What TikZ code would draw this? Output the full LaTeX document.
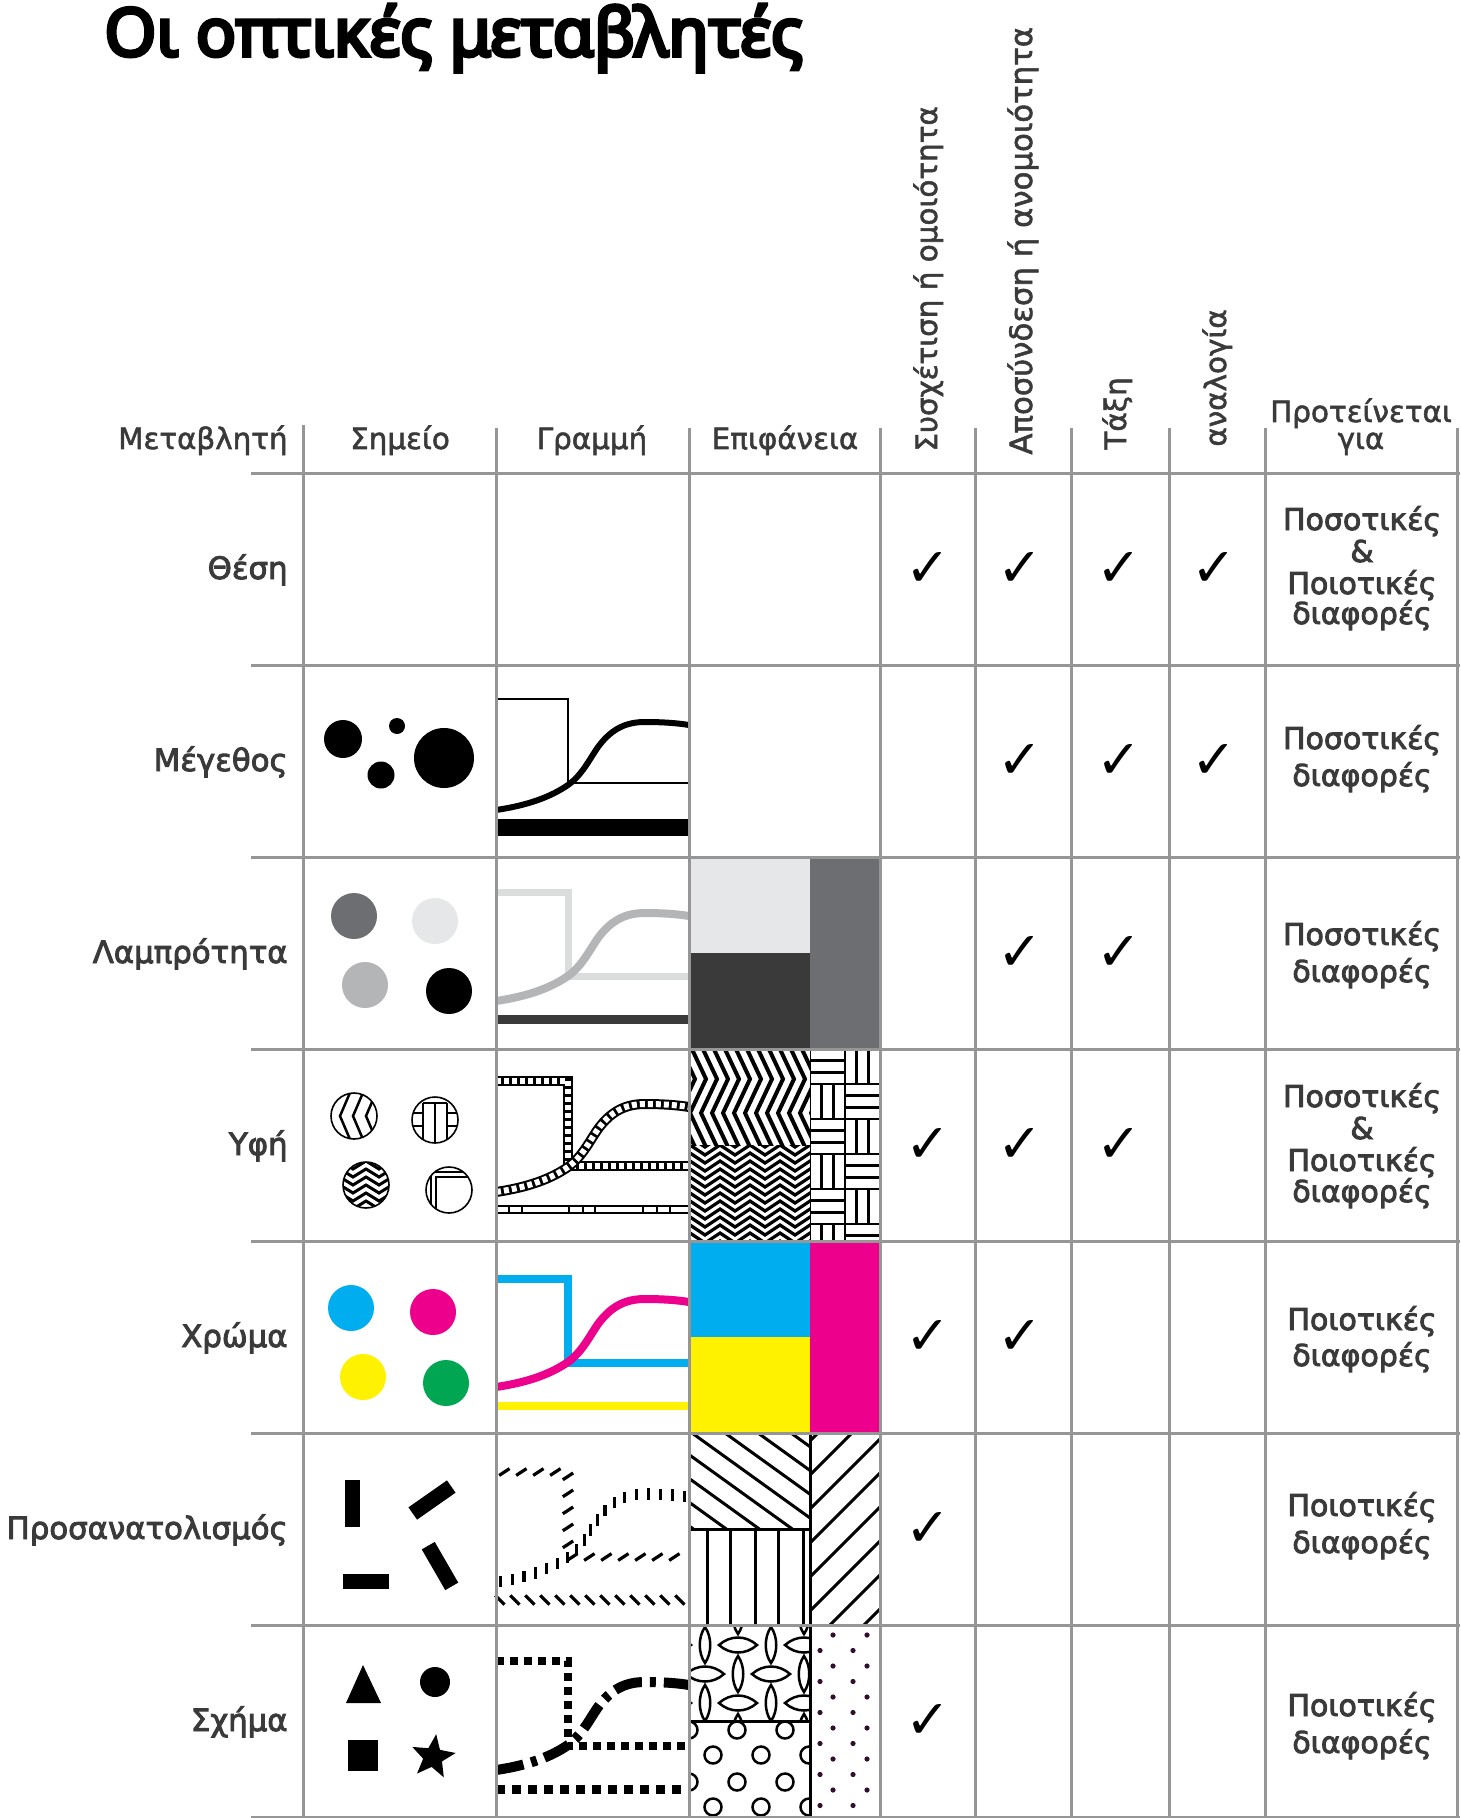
\documentclass[tikz,border=0pt]{standalone}
\usepackage{fontspec}
\setmainfont{DejaVu Sans}
\newfontfamily\hdrfont{DejaVu Sans}[FakeBold=1.8]
\newfontfamily\labfont{DejaVu Sans}[FakeBold=3]
\newfontfamily\titlefont{Noto Sans}[FakeBold=5.5]
\newfontfamily\symfont{DejaVu Sans}
\usetikzlibrary{shapes.geometric,decorations.markings}
\definecolor{gridgray}{RGB}{150,150,150}
\definecolor{txt}{RGB}{58,58,58}
\definecolor{cyanC}{RGB}{0,174,239}
\definecolor{magC}{RGB}{236,0,140}
\definecolor{yelC}{RGB}{255,242,0}
\definecolor{grnC}{RGB}{0,166,81}
\definecolor{gDark}{RGB}{109,110,113}
\definecolor{gLight}{RGB}{230,231,232}
\definecolor{gMid}{RGB}{180,181,183}
\definecolor{gBlack}{RGB}{58,58,58}
\definecolor{dotC}{RGB}{50,15,45}
\newcommand\scurve[1]{(496,#1+145) .. controls (530,#1+140) and (552,#1+131) .. (568,#1+120) .. controls (582,#1+110) and (589,#1+95) .. (598,#1+82) .. controls (612,#1+63) and (627,#1+57) .. (645,#1+57) .. controls (662,#1+57) and (677,#1+58) .. (689,#1+60)}
\newcommand\srect[2]{(496,#1) -- (568,#1) -- (568,#2) -- (689,#2)}
\newcommand\vlens[2]{(#1,#2-18) .. controls (#1+7,#2-8) and (#1+7,#2+8) .. (#1,#2+18) .. controls (#1-7,#2+8) and (#1-7,#2-8) .. (#1,#2-18) -- cycle}
\newcommand\hlens[2]{(#1-19,#2) .. controls (#1-8,#2-10) and (#1+8,#2-10) .. (#1+19,#2) .. controls (#1+8,#2+10) and (#1-8,#2+10) .. (#1-19,#2) -- cycle}
\tikzset{
  gridline/.style={draw=gridgray, line width=1.5pt},
  hdr/.style={text=txt, font=\hdrfont\fontsize{14.7}{17}\selectfont, inner sep=0pt},
  rowlab/.style={text=txt, font=\labfont\fontsize{15.4}{17}\selectfont, anchor=base east, inner sep=0pt},
  diff/.style={text=txt, font=\labfont\fontsize{15}{17}\selectfont, anchor=base, inner sep=0pt},
  chk/.style={font=\symfont\fontsize{27}{27}\selectfont, inner sep=0pt},
  pat/.style={line width=1.25pt},
}
\begin{document}
\begin{tikzpicture}[x=0.5pt,y=-0.5pt]
\useasboundingbox (0,0) rectangle (1460,1818);
\fill[white] (0,0) rectangle (1460,1818);

% ---------- title
\node[anchor=base west, font=\titlefont\fontsize{33.3}{40}\selectfont, inner sep=0pt] (title) at (104,56) {Οι οπτικές μεταβλητές};

% ---------- headers
\node[hdr, anchor=base east] (hVar) at (288,449) {Μεταβλητή};
\node[hdr, anchor=base] (hPt) at (400,449) {Σημείο};
\node[hdr, anchor=base] (hLn) at (592,449) {Γραμμή};
\node[hdr, anchor=base] (hSf) at (785,449) {Επιφάνεια};
\node[hdr, rotate=90, anchor=base west] (hSim) at (937,452) {Συσχέτιση ή ομοιότητα};
\node[hdr, rotate=90, anchor=base west, font=\hdrfont\fontsize{15.4}{17}\selectfont] (hDis) at (1032,455) {Αποσύνδεση ή ανομοιότητα};
\node[hdr, rotate=90, anchor=base west] (hOrd) at (1126,450) {Τάξη};
\node[hdr, rotate=90, anchor=base west] (hPro) at (1226,447) {αναλογία};
\node[hdr, anchor=base] (hSug1) at (1361,422) {Προτείνεται};
\node[hdr, anchor=base] (hSug2) at (1361,449) {για};

% ---------- row labels
\node[rowlab] (r1) at (288,579) {Θέση};
\node[rowlab] (r2) at (288,771) {Μέγεθος};
\node[rowlab] (r3) at (288,963) {Λαμπρότητα};
\node[rowlab] (r4) at (288,1155) {Υφή};
\node[rowlab] (r5) at (288,1347) {Χρώμα};
\node[rowlab] (r6) at (288,1539) {Προσανατολισμός};
\node[rowlab] (r7) at (288,1731) {Σχήμα};

% ---------- checks
\foreach \x [count=\i] in {928,1020,1119,1214} \node[chk] (c1\i) at (\x,569) {✓};
\foreach \x [count=\i] in {1020,1119,1214} \node[chk] (c2\i) at (\x,761) {✓};
\foreach \x [count=\i] in {1020,1119} \node[chk] (c3\i) at (\x,953) {✓};
\foreach \x [count=\i] in {928,1020,1119} \node[chk] (c4\i) at (\x,1145) {✓};
\foreach \x [count=\i] in {928,1020} \node[chk] (c5\i) at (\x,1337) {✓};
\node[chk] (c61) at (928,1529) {✓};
\node[chk] (c71) at (928,1721) {✓};

% ---------- last column
\node[diff] (d1a) at (1362,530) {Ποσοτικές};
\node[diff] (d1b) at (1362,562) {\&};
\node[diff] (d1c) at (1362,594) {Ποιοτικές};
\node[diff] (d1d) at (1362,624) {διαφορές};
\node[diff] (d2a) at (1362,749) {Ποσοτικές};
\node[diff] (d2b) at (1362,786) {διαφορές};
\node[diff] (d3a) at (1362,945) {Ποσοτικές};
\node[diff] (d3b) at (1362,982) {διαφορές};
\node[diff] (d4a) at (1362,1107) {Ποσοτικές};
\node[diff] (d4b) at (1362,1139) {\&};
\node[diff] (d4c) at (1362,1171) {Ποιοτικές};
\node[diff] (d4d) at (1362,1202) {διαφορές};
\node[diff] (d5a) at (1362,1330) {Ποιοτικές};
\node[diff] (d5b) at (1362,1366) {διαφορές};
\node[diff] (d6a) at (1362,1516) {Ποιοτικές};
\node[diff] (d6b) at (1362,1553) {διαφορές};
\node[diff] (d7a) at (1362,1716) {Ποιοτικές};
\node[diff] (d7b) at (1362,1753) {διαφορές};

% ================= Row 2: Μέγεθος
\fill (343,739) circle[radius=19];
\fill (397,726) circle[radius=8];
\fill (381,775) circle[radius=13.5];
\fill (444,758) circle[radius=30];
\draw[line width=1pt] \srect{699}{783};
\draw[line width=3pt] \scurve{665};
\draw[line width=8.5pt] (496,827.5) -- (689,827.5);

% ================= Row 3: Λαμπρότητα
\fill[gDark] (354,916) circle[radius=23];
\fill[gLight] (435,921) circle[radius=23];
\fill[gMid] (365,985) circle[radius=23];
\fill (449,991) circle[radius=23];
\draw[gLight!95!black, line width=3.5pt] \srect{892}{976};
\draw[gMid, line width=4pt] \scurve{856};
\draw[gBlack, line width=4.5pt] (496,1019.5) -- (689,1019.5);
\fill[gLight] (690,857) rectangle (810,953);
\fill[gBlack] (690,953) rectangle (810,1049);
\fill[gDark] (810,857) rectangle (879,1049);

% ================= Row 4: Υφή
\begin{scope}
\clip (354,1116) circle[radius=23];
\foreach \i in {-3,...,3} \draw[pat] ({352+13*\i},1088) -- ++(-12,28) -- ++(12,28);
\end{scope}
\draw[line width=0.8pt] (354,1116) circle[radius=23];
\begin{scope}
\clip (435,1120) circle[radius=23];
\draw[pat] (423,1103) -- (423,1150) (435,1103) -- (435,1150) (447,1103) -- (447,1150) (423,1103) -- (447,1103);
\draw[pat] (405,1113) -- (423,1113) (405,1126) -- (423,1126) (447,1113) -- (470,1113) (447,1126) -- (470,1126);
\end{scope}
\draw[line width=0.8pt] (435,1120) circle[radius=23];
\begin{scope}
\clip (366,1185) circle[radius=23];
\foreach \j in {-4,...,4} \draw[line width=1.5pt] (340,{1185+8*\j}) -- ++(13,8) -- ++(13,-8) -- ++(13,8) -- ++(13,-8);
\end{scope}
\draw[line width=0.8pt] (366,1185) circle[radius=23];
\begin{scope}
\clip (449,1190) circle[radius=23];
\draw[line width=1pt] (431,1220) -- (431,1172) -- (480,1172) (436,1220) -- (436,1177) -- (480,1177);
\end{scope}
\draw[line width=0.8pt] (449,1190) circle[radius=23];
\draw[line width=5pt] \srect{1080.5}{1166};
\draw[white, line width=3pt, dash pattern=on 2.5pt off 1.5pt] \srect{1080.5}{1166};
\draw[line width=5pt] \scurve{1047};
\draw[white, line width=3pt, dash pattern=on 2.5pt off 1.5pt] \scurve{1047};
\draw[line width=4.5pt] (496,1209.5) -- (689,1209.5);
\draw[white, line width=2.6pt] (496,1209.5) -- (689,1209.5);
\foreach \x in {509,522,569,583,595,643,657,670} \draw[line width=1pt] (\x,1205) -- (\x,1214);
\begin{scope}
\clip (690,1049) rectangle (810,1145);
\foreach \i in {-3,...,11} \draw[line width=2pt] ({690+11*\i},1045) -- ++(16,34) -- ++(-16,34) -- ++(16,34);
\end{scope}
\begin{scope}
\clip (690,1145) rectangle (810,1241);
\foreach \j in {-2,...,13} \draw[line width=1.6pt] (690,{1145+8*\j}) -- ++(15,10) -- ++(15,-10) -- ++(15,10) -- ++(15,-10) -- ++(15,10) -- ++(15,-10) -- ++(15,10) -- ++(15,-10) -- ++(15,10);
\end{scope}
\begin{scope}
\clip (810,1049) rectangle (879,1241);
\foreach \i in {0,1} \foreach \j in {0,...,5} {
  \pgfmathtruncatemacro\pp{mod(\i+\j,2)}
  \draw[pat] ({810+35*\i},{1049+35*\j}) rectangle ++(35,35);
  \ifnum\pp=0
    \draw[pat] ({810+35*\i},{1049+35*\j+11.7}) -- ++(35,0) ({810+35*\i},{1049+35*\j+23.3}) -- ++(35,0);
  \else
    \draw[pat] ({810+35*\i+11.7},{1049+35*\j}) -- ++(0,35) ({810+35*\i+23.3},{1049+35*\j}) -- ++(0,35);
  \fi
}
\end{scope}

% ================= Row 5: Χρώμα
\fill[cyanC] (351,1308) circle[radius=23];
\fill[magC] (433,1312) circle[radius=23];
\fill[yelC] (363,1377) circle[radius=23];
\fill[grnC] (446,1383) circle[radius=23];
\draw[cyanC, line width=4pt] \srect{1278.5}{1363};
\draw[magC, line width=4pt] \scurve{1242};
\draw[yelC, line width=4pt] (496,1406) -- (689,1406);
\fill[cyanC] (690,1241) rectangle (810,1337);
\fill[yelC] (690,1337) rectangle (810,1433);
\fill[magC] (810,1241) rectangle (879,1433);

% ================= Row 6: Προσανατολισμός
\fill (345,1480) rectangle (360,1527);
\fill[rotate around={35:(432,1500)}] (408.5,1492.5) rectangle (455.5,1507.5);
\fill (343,1574) rectangle (389,1589);
\fill[rotate around={-60:(440,1566)}] (416.5,1558.5) rectangle (463.5,1573.5);
\path[postaction={decorate}, decoration={markings, mark=between positions 0.03 and 1 step 8.5pt with {\pgftransformresetnontranslations\draw[line width=1.6pt] (-2.6pt,-1.7pt) -- (2.6pt,1.7pt);}}] \srect{1472}{1557};
\path[postaction={decorate}, decoration={markings, mark=between positions 0.02 and 1 step 6pt with {\pgftransformresetnontranslations\draw[line width=1.6pt] (0pt,-2.8pt) -- (0pt,2.8pt);}}] \scurve{1437};
\path[postaction={decorate}, decoration={markings, mark=between positions 0.02 and 1 step 7.5pt with {\pgftransformresetnontranslations\draw[line width=1.6pt] (-2.3pt,2.3pt) -- (2.3pt,-2.3pt);}}] (496,1600) -- (689,1600);
\begin{scope}
\clip (690,1433) rectangle (810,1529);
\foreach \i in {-6,...,5} \draw[line width=1.5pt] ({692+33*\i},1433) -- ++(200,144);
\end{scope}
\foreach \x in {707,730,755,778,803} \draw[line width=1.5pt] (\x,1529) -- (\x,1625);
\begin{scope}
\clip (810,1433) rectangle (879,1625);
\foreach \k in {-2,...,7} \draw[line width=1.5pt] (810,{1441+34*\k}) -- ++(80,-80);
\end{scope}
\draw[line width=1.5pt] (690,1529) -- (810,1529) (810,1433) -- (810,1625);

% ================= Row 7: Σχήμα
\fill (363,1665) -- (381,1703) -- (346,1703) -- cycle;
\fill (435,1682) circle[radius=15];
\fill (348,1740) rectangle (378,1771);
\node[star, star points=5, star point ratio=2.3, fill, minimum size=23pt, inner sep=0pt, rotate=-8] (star) at (433,1757) {};
\draw[line width=4pt, dash pattern=on 4pt off 3pt] \srect{1661}{1746};
\draw[line width=5pt, dash pattern=on 14pt off 4pt on 3pt off 4pt] \scurve{1625};
\draw[line width=4.5pt, dash pattern=on 4.5pt off 3.5pt] (496,1789) -- (689,1789);
\begin{scope}
\clip (690,1625) rectangle (810,1721);
\foreach \i in {-1,...,4} \foreach \j in {-1,...,3} {
  \pgfmathtruncatemacro\pp{mod(\i+\j+10,2)}
  \ifnum\pp=0
    \draw[pat, fill=white] \vlens{705+33*\i}{1645+29*\j};
  \else
    \draw[pat, fill=white] \hlens{705+33*\i}{1645+29*\j};
  \fi
}
\end{scope}
\begin{scope}
\clip (690,1721) rectangle (810,1817);
\foreach \y in {1730,1782} \foreach \x in {689,737,785} \draw[pat] (\x,\y) circle[radius=8.5];
\foreach \y in {1705,1755,1807} \foreach \x in {713,761,809} \draw[pat] (\x,\y) circle[radius=8.5];
\end{scope}
\foreach \k in {0,...,11} {
  \pgfmathtruncatemacro\pp{mod(\k,2)}
  \ifnum\pp=0
    \fill[dotC] (833,{1635+15.5*\k}) circle[radius=2.6] (867,{1635+15.5*\k}) circle[radius=2.6];
  \else
    \fill[dotC] (820,{1635+15.5*\k}) circle[radius=2.6] (853,{1635+15.5*\k}) circle[radius=2.6];
  \fi
}
\draw[line width=1.5pt] (690,1721) -- (810,1721) (810,1625) -- (810,1817);

% ================= grid
\foreach \y in {473,665,857,1049,1241,1433,1625,1817} \draw[gridline] (251,\y) -- (1460,\y);
\draw[gridline] (303,425) -- (303,1818);
\foreach \x in {496,689,880,975,1071.5,1169,1265,1457} \draw[gridline] (\x,428) -- (\x,1818);
\end{tikzpicture}
\end{document}
